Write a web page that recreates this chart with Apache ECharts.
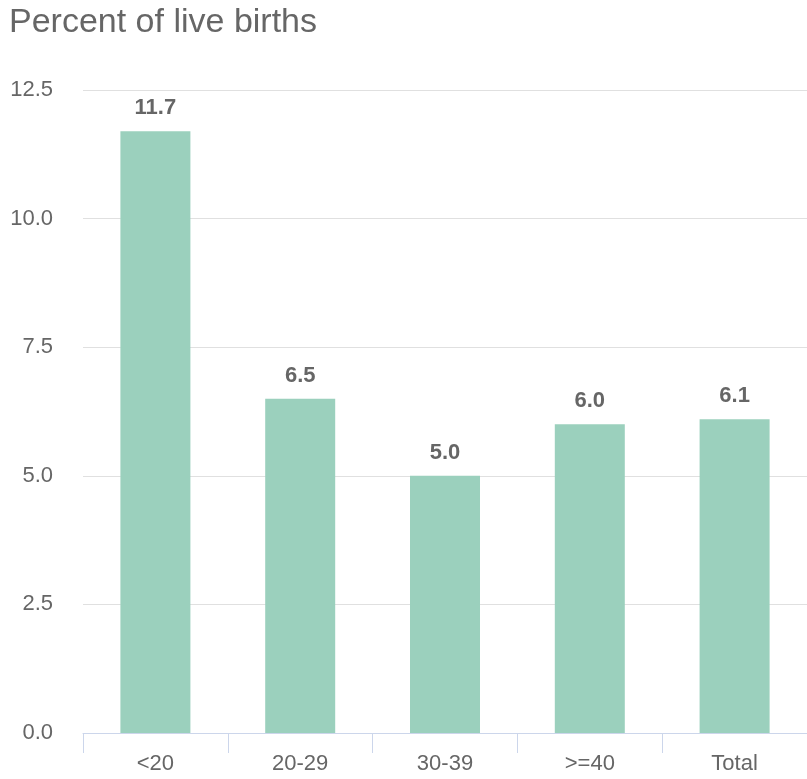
<!DOCTYPE html>
<html>
<head>
<meta charset="utf-8">
<script src="https://cdn.jsdelivr.net/npm/echarts@6/dist/echarts.min.js"></script>
<style>
  html, body { margin: 0; padding: 0; background: #fff; }
  #chart { width: 807px; height: 779px; }
</style>
</head>
<body>
<div id="chart"></div>
<script>
const categories = ['<20', '20-29', '30-39', '>=40', 'Total'];
const values = [11.7, 6.5, 5.0, 6.0, 6.1];
const yTicks = { min: 0, max: 12.5, interval: 2.5 };

const chart = echarts.init(document.getElementById('chart'));
const gray = '#666666';
const font = 'Liberation Sans, Arial, sans-serif';

chart.setOption({
  animation: false,
  title: {
    text: 'Percent of live births',
    left: 4, top: 1,
    textStyle: { color: gray, fontSize: 34, fontWeight: 'normal', fontFamily: font },
  },
  grid: { left: 83, right: 0, top: 90, bottom: 46, containLabel: false },
  xAxis: {
    type: 'category',
    data: categories,
    axisLine: { lineStyle: { color: '#ccd6eb', width: 1 } },
    axisTick: { show: true, length: 20, lineStyle: { color: '#ccd6eb' } },
    axisLabel: { color: gray, fontSize: 22, fontFamily: font, margin: 20 },
  },
  yAxis: {
    type: 'value',
    min: yTicks.min, max: yTicks.max, interval: yTicks.interval,
    axisLine: { show: false },
    axisTick: { show: false },
    splitLine: { lineStyle: { color: '#e0e0e0', width: 1 } },
    axisLabel: {
      color: gray, fontSize: 22, fontFamily: font, margin: 30,
      formatter: v => v.toFixed(1),
    },
  },
  series: [{
    type: 'bar',
    data: values,
    barWidth: 70,
    itemStyle: { color: '#9bd0bd' },
    label: {
      show: true, position: 'top', distance: 12,
      color: gray, fontSize: 22, fontWeight: 'bold', fontFamily: font,
      formatter: p => p.value.toFixed(1),
    },
  }],
});
</script>
</body>
</html>
